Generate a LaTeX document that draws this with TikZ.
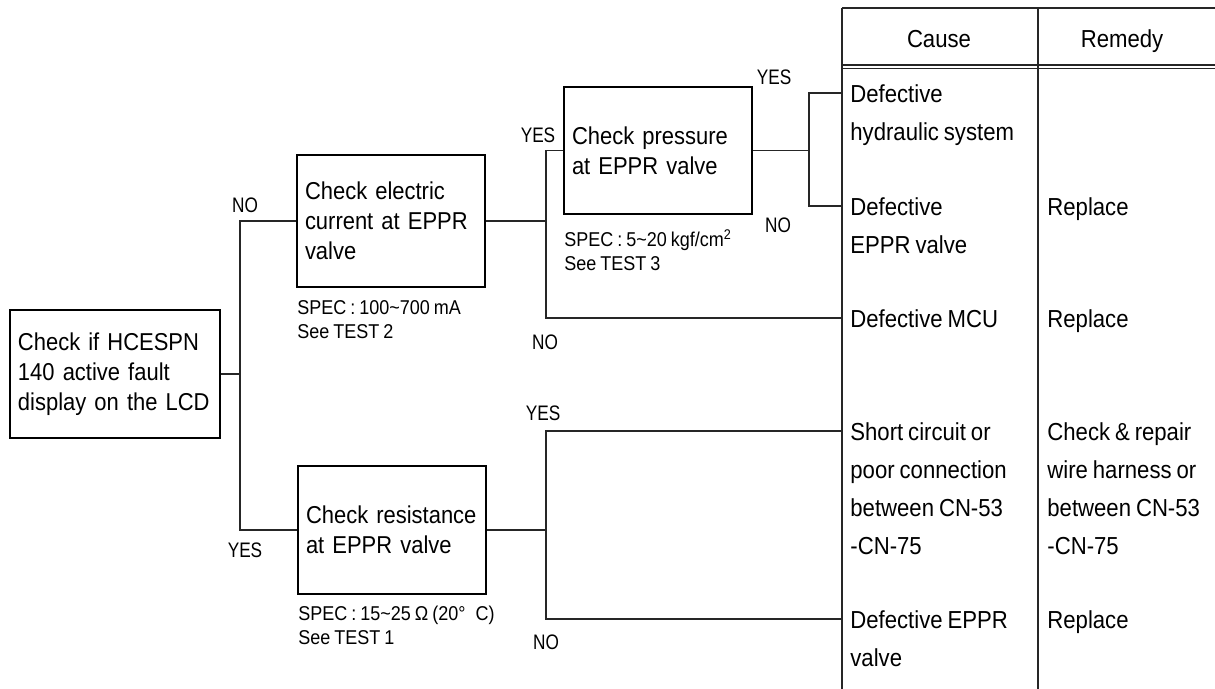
\documentclass[tikz,border=0pt]{standalone}
\usepackage{fontspec}
\setmainfont{Liberation Sans}[FakeStretch=0.9, WordSpace=0.8]
\newfontfamily\answerfont{Liberation Sans}[FakeStretch=0.82]
\usetikzlibrary{positioning}
\hyphenpenalty=10000

\begin{document}
\begin{tikzpicture}[x=0.5pt, y=-0.5pt,
    check/.style={rectangle, draw=black, line width=0.75pt, text width=#1, minimum height=64pt, inner sep=4pt, align=left, font=\fontsize{12.2}{15}\selectfont},
    spec/.style={anchor=north west, inner sep=0pt, align=left, font=\fontsize{10}{12}\selectfont},
    answer/.style={inner sep=0pt, font=\answerfont\fontsize{10.5}{12}\selectfont},
    cell/.style={anchor=north west, inner sep=0pt, align=left, font=\fontsize{12.3}{19}\selectfont},
    head/.style={anchor=base, inner sep=0pt, font=\fontsize{12.3}{19}\selectfont},
    link/.style={line width=0.6pt, color=black!85},
    rule/.style={line width=0.7pt, color=black!85}
]
\useasboundingbox (0,0) rectangle (1215,689);

% check boxes
\node[check=97pt] (lcd) at (115,374) {Check if HCESPN\\140 active fault\\display on the LCD};
\node[check=86pt, minimum height=66pt] (current) at (391,221) {Check electric\\current at EPPR\\valve};
\node[check=86pt, minimum height=63.5pt] (pressure) at (658,150.5) {Check pressure\\at EPPR valve};
\node[check=86pt] (resist) at (392,530) {Check resistance\\at EPPR valve};

\node[spec] (speccur) at (297,300.5) {SPEC : 100\textasciitilde700 mA\\See TEST 2};
\node[spec] (specpre) at (564,229.5) {SPEC : 5\textasciitilde20 kgf/cm\textsuperscript{2}\\See TEST 3};
\node[spec] (specres) at (298,605.5) {SPEC : 15\textasciitilde25 Ω (20°\enspace C)\\See TEST 1};

% junctions and table entry points
\coordinate (jlcd) at (240,374);
\coordinate (jcur) at (546,221);
\coordinate (jpre) at (809,150.5);
\coordinate (jres) at (546,530);
\coordinate (rhyd) at (842,93);
\coordinate (reppr) at (842,206);
\coordinate (rmcu) at (842,318);
\coordinate (rshort) at (842,431);
\coordinate (rvalve) at (842,619);

\draw[link] (lcd.east) -- (jlcd);
\draw[link] (jlcd) |- (current.west);
\draw[link] (jlcd) |- (resist.west);
\draw[link] (current.east) -- (jcur);
\draw[link] (jcur) |- (pressure.west);
\draw[link] (jcur) |- (rmcu);
\draw[link] (pressure.east) -- (jpre);
\draw[link] (jpre) |- (rhyd);
\draw[link] (jpre) |- (reppr);
\draw[link] (resist.east) -- (jres);
\draw[link] (jres) |- (rshort);
\draw[link] (jres) |- (rvalve);

% answers
\node[answer] (nocur) at (245,205) {NO};
\node[answer] (yesres) at (245,550) {YES};
\node[answer] (yespre) at (538,135) {YES};
\node[answer] (nomcu) at (545,342) {NO};
\node[answer] (yeshyd) at (774,77) {YES};
\node[answer] (noeppr) at (778,225) {NO};
\node[answer] (yesshort) at (543,413) {YES};
\node[answer] (novalve) at (546,642) {NO};

% cause / remedy table
\draw[rule] (842,8) -- (1215,8);
\draw[rule] (842,65) -- (1215,65);
\draw[rule] (842,68.5) -- (1215,68.5);
\draw[rule, line width=0.9pt] (842,8) -- (842,689);
\draw[rule] (1038,8) -- (1038,689);

\node[head] (cause) at (939,48) {Cause};
\node[head] (remedy) at (1122,48) {Remedy};

\node[cell] (chyd) at (850,84) {Defective\\hydraulic system};
\node[cell] (ceppr) at (850,197) {Defective\\EPPR valve};
\node[cell] (cmcu) at (850,309) {Defective MCU};
\node[cell] (cshort) at (850,422) {Short circuit or\\poor connection\\between CN-53\\-CN-75};
\node[cell] (cvalve) at (850,610) {Defective EPPR\\valve};

\node[cell] (meppr) at (1047,197) {Replace};
\node[cell] (mmcu) at (1047,309) {Replace};
\node[cell] (mshort) at (1047,422) {Check \& repair\\wire harness or\\between CN-53\\-CN-75};
\node[cell] (mvalve) at (1047,610) {Replace};

\end{tikzpicture}
\end{document}
